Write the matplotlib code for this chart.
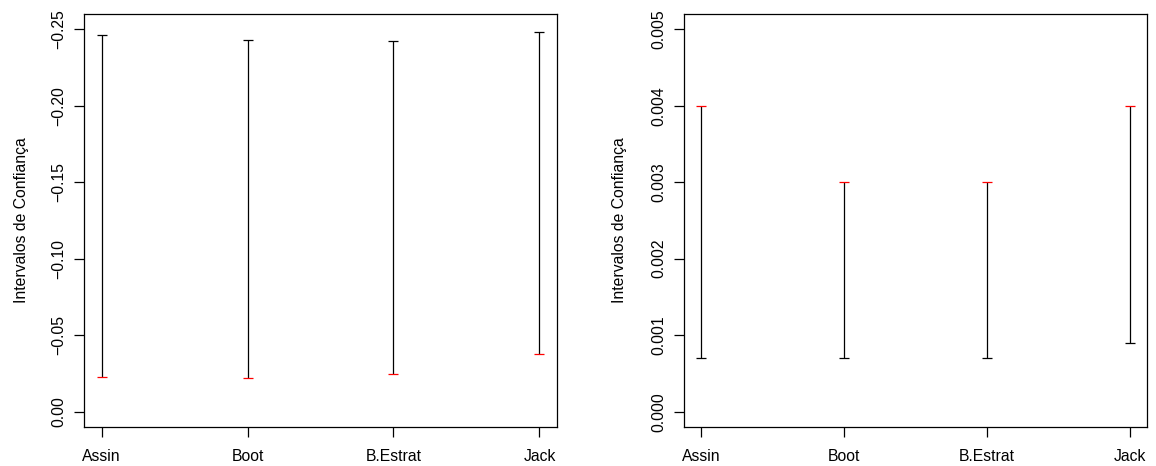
import matplotlib.pyplot as plt

plt.rcParams['font.family'] = ['Liberation Sans', 'DejaVu Sans']

categories = ['Assin', 'Boot', 'B.Estrat', 'Jack']

# left panel: intervals for the negative coefficient
ic1_low = [-0.2464, -0.2429, -0.2423, -0.2482]
ic1_high = [-0.0227, -0.0220, -0.0246, -0.0377]
ic1_ticks = [0.00, -0.05, -0.10, -0.15, -0.20, -0.25]

# right panel: intervals for the small positive coefficient
ic2_low = [0.0007, 0.0007, 0.0007, 0.0009]
ic2_high = [0.004, 0.003, 0.003, 0.004]
ic2_ticks = [0.000, 0.001, 0.002, 0.003, 0.004, 0.005]

FS = 11.3
YLABEL = 'Intervalos de Confiança'


def draw_panel(ax, low, high, ticks, ylim, fmt):
    x = list(range(1, len(categories) + 1))
    ax.vlines(x, low, high, colors='black', linewidth=0.9)
    ax.plot(x, low, linestyle='none', marker='_', markersize=6.8,
            markeredgewidth=0.9, color='black')
    ax.plot(x, high, linestyle='none', marker='_', markersize=6.8,
            markeredgewidth=0.9, color='red')

    ax.set_xlim(0.88, 4.12)
    ax.set_ylim(*ylim)
    ax.set_xticks(x)
    ax.set_xticklabels(categories, fontsize=FS)
    ax.set_yticks(ticks)
    ax.set_yticklabels([fmt.format(t).replace('-', '\u2212') for t in ticks],
                       fontsize=FS, rotation=90, va='center')
    ax.tick_params(direction='out', length=7, width=0.9, color='black')
    ax.tick_params(axis='x', pad=9)
    ax.tick_params(axis='y', pad=6)
    for spine in ax.spines.values():
        spine.set_linewidth(0.9)
        spine.set_color('black')
    ax.set_ylabel(YLABEL, fontsize=FS)


fig = plt.figure(figsize=(11.56, 4.66), dpi=100)
ax1 = fig.add_axes([0.0727, 0.0837, 0.4091, 0.8863])
ax2 = fig.add_axes([0.5917, 0.0837, 0.4003, 0.8863])

draw_panel(ax1, ic1_low, ic1_high, ic1_ticks, (0.01, -0.26), '{:.2f}')
draw_panel(ax2, ic2_low, ic2_high, ic2_ticks, (-0.0002, 0.0052), '{:.3f}')

ax1.yaxis.set_label_coords(-0.116, 0.5)
ax2.yaxis.set_label_coords(-0.123, 0.5)

fig.savefig('out.png', dpi=100)
